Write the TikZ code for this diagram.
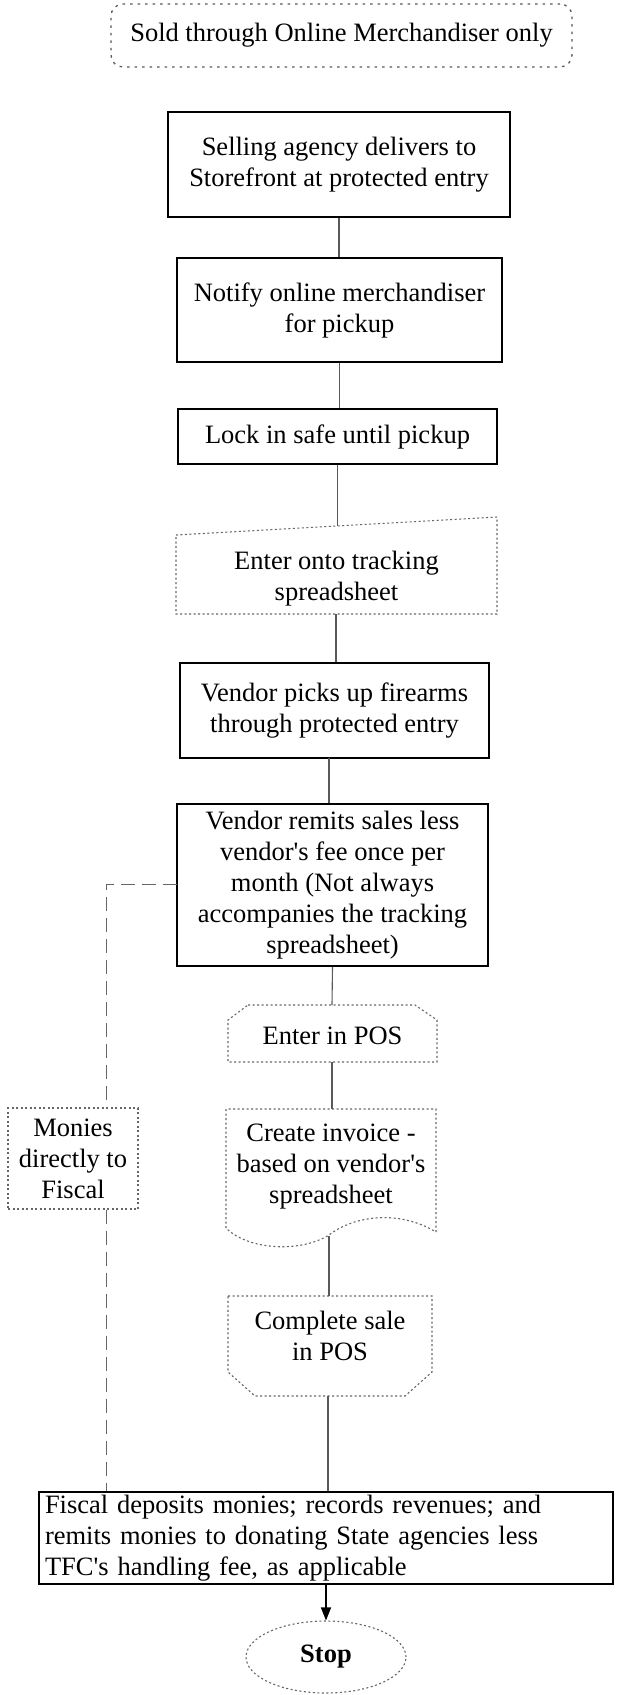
\documentclass[tikz,border=0pt]{standalone}
\usepackage{fontspec}
\setmainfont{Liberation Serif}
\usetikzlibrary{shapes.geometric,arrows.meta}
\begin{document}
\begin{tikzpicture}[x=1pt,y=-1pt,
  every node/.style={font=\fontsize{26.5}{31}\selectfont, inner sep=0pt, align=center},
  solidbox/.style={draw=black, line width=2pt},
  dotbox/.style={draw=black!60, line width=1.1pt, dash pattern=on 2pt off 2.5pt},
  notebox/.style={draw=black!65, line width=1.3pt, dash pattern=on 2.5pt off 5pt},
  conn/.style={draw=black!65, line width=1.1pt},
  dashline/.style={draw=black!60, line width=1pt, dash pattern=on 14pt off 7pt},
  arrowline/.style={draw=black, line width=1.3pt, -{Triangle[length=13pt,width=10pt]}},
]
\fill[white] (0,0) rectangle (616,1695);
\useasboundingbox (0,0) rectangle (616,1695);

% top note
\node[notebox, rounded corners=12pt, minimum width=461pt, minimum height=63pt] (top) at (341.5,35.5) {Sold through Online Merchandiser only};

% process boxes
\node[solidbox, minimum width=342pt, minimum height=105pt] (b1) at (339,164.5) {Selling agency delivers to\\Storefront at protected entry};
\node[solidbox, minimum width=325pt, minimum height=104pt] (b2) at (339.5,310) {Notify online merchandiser\\for pickup};
\node[solidbox, minimum width=319pt, minimum height=55pt] (b3) at (337.5,436.5) {Lock in safe until pickup};

% manual input
\draw[dotbox] (176,535) -- (497,517) -- (497,614) -- (176,614) -- cycle;
\node (b4) at (336.5,579) {Enter onto tracking\\spreadsheet};
\coordinate (b4top) at (337.5,526);
\coordinate (b4bot) at (336,614);

\node[solidbox, minimum width=309pt, minimum height=95pt] (b5) at (334.5,710.5) {Vendor picks up firearms\\through protected entry};
\node[solidbox, minimum width=311pt, minimum height=162pt] (b6) at (332.5,885) {Vendor remits sales less\\vendor\textquotesingle s fee once per\\month (Not always\\accompanies the tracking\\spreadsheet)};

% Enter in POS (loop limit)
\draw[dotbox] (248,1005) -- (415,1005) -- (437,1020) -- (437,1062) -- (228,1062) -- (228,1020) -- cycle;
\node (pos1) at (332.5,1036) {Enter in POS};
\coordinate (pos1top) at (332,1005);
\coordinate (pos1bot) at (332,1062);

% Create invoice (document)
\draw[dotbox] (226,1228) -- (226,1109) -- (436,1109) -- (436,1232)
  .. controls (400,1210) and (355,1215) .. (329,1235)
  .. controls (300,1253) and (248,1250) .. (226,1228);
\node (inv) at (331,1167) {Create invoice -\\based on vendor\textquotesingle s\\spreadsheet};
\coordinate (invtop) at (332,1109);
\coordinate (invbot) at (329,1236);

% Complete sale (loop limit end)
\draw[dotbox] (228,1296) -- (432,1296) -- (432,1372) -- (405,1396) -- (255,1396) -- (228,1372) -- cycle;
\node (cs) at (330,1336) {Complete sale\\in POS};
\coordinate (cstop) at (329,1296);
\coordinate (csbot) at (328,1396);

% side note
\node[dotbox, minimum width=130pt, minimum height=101pt] (mon) at (73,1158.5) {Monies\\directly to\\Fiscal};

% fiscal
\node[solidbox, minimum width=574pt, minimum height=92pt, text width=562pt, inner xsep=6pt, align=left] (fis) at (326,1538) {Fiscal deposits monies; records revenues; and\\remits monies to donating State agencies less\\TFC\textquotesingle s handling fee, as applicable};

% stop
\node[ellipse, dotbox, minimum width=160pt, minimum height=72pt, font=\fontsize{26.5}{31}\selectfont\bfseries] (stop) at (326,1657) {Stop};

% connectors
\draw[conn] (b1.south) -- (b1.south |- b2.north);
\draw[conn] (b2.south) -- (b2.south |- b3.north);
\draw[conn] (b3.south) -- (b4top);
\draw[conn] (b4bot) -- (b4bot |- b5.north);
\coordinate (b5out) at (329,758);
\draw[conn] (b5out) -- (b5out |- b6.north);
\draw[conn] (b6.south) -- (pos1top);
\draw[conn] (pos1bot) -- (invtop);
\draw[conn] (invbot) -- (cstop);
\draw[conn] (csbot) -- (csbot |- fis.north);
\draw[arrowline] (stop.north |- fis.south) -- (stop.north);

% dashed path for monies
\coordinate (d1) at (177,884);
\coordinate (d2) at (106,884);
\draw[dashline] (d1) -- (d2) -- (d2 |- mon.north);
\draw[dashline] (mon.south -| d2) -- (d2 |- fis.north);
\end{tikzpicture}
\end{document}
